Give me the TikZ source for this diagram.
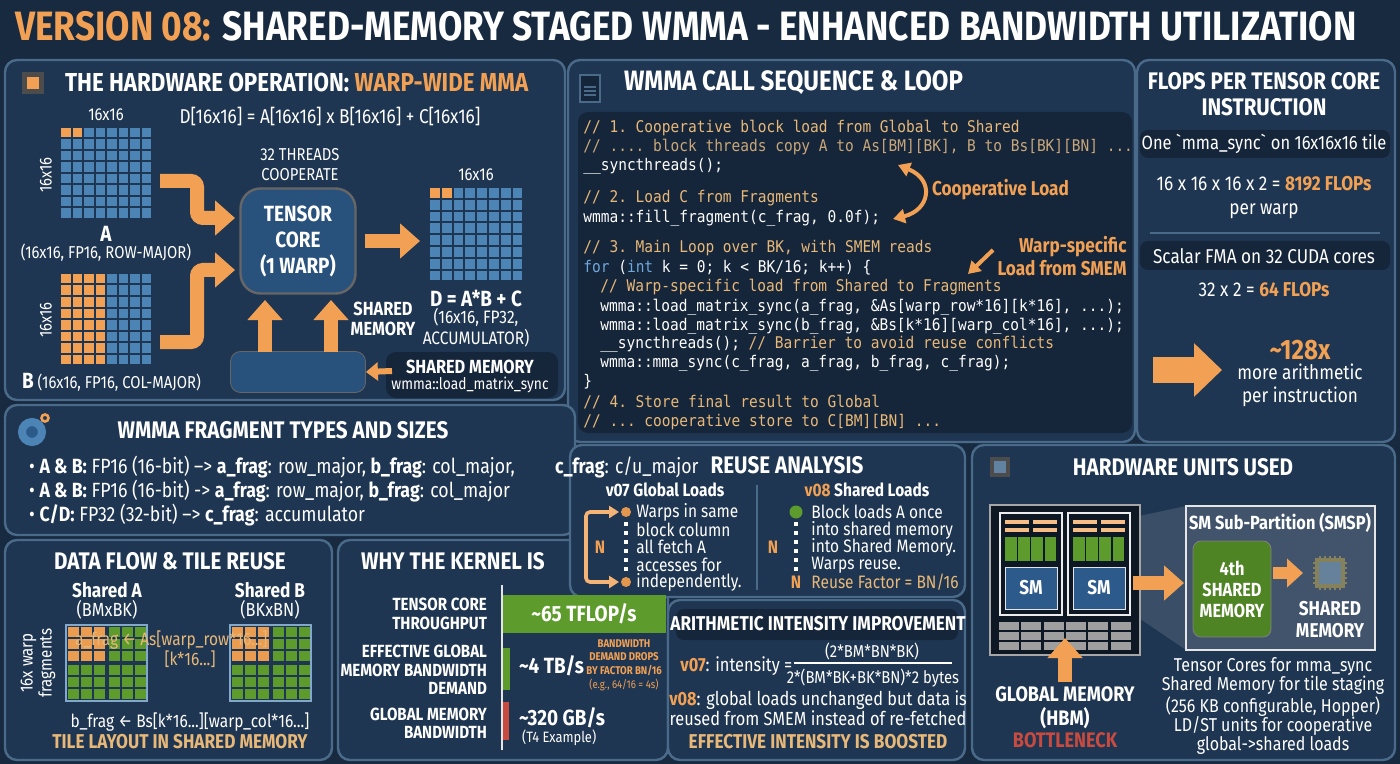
\documentclass[tikz,border=0pt]{standalone}
\usepackage{fontspec}
\setmainfont{Fira Sans}[FakeStretch=0.86]
\setmonofont{DejaVu Sans Mono}[FakeStretch=0.9]
\usetikzlibrary{arrows.meta,calc}
\definecolor{bg}{HTML}{182A40}
\definecolor{pan}{HTML}{1F3652}
\definecolor{pbd}{HTML}{4A6A8A}
\definecolor{dark}{HTML}{15253A}
\definecolor{org}{HTML}{F2A154}
\definecolor{tan}{HTML}{E8B878}
\definecolor{cb}{HTML}{4D84B6}
\definecolor{gr}{HTML}{5D9B2C}
\definecolor{rd}{HTML}{C94A3F}
\definecolor{kw}{HTML}{6FA8DC}
\definecolor{smb}{HTML}{2C5A8A}
\tikzset{
 panel/.style={draw=pbd,fill=pan,line width=1.2,rounded corners=6},
 ttl/.style={text=white,font=\bfseries\fontsize{14}{14}\selectfont},
 txt/.style={text=white,font=\fontsize{8.6}{10}\selectfont,align=center},
 btxt/.style={text=white,font=\bfseries\fontsize{9}{10}\selectfont,align=center},
 code/.style={anchor=base west,text=white,font=\ttfamily\fontsize{8.05}{9}\selectfont,inner sep=0},
 bigarr/.style={org,line width=7,-{Triangle[length=10,width=17]}},
 smarr/.style={org,line width=3,-{Triangle[length=6,width=9]}},
 rtxt/.style={text=white,anchor=west,font=\fontsize{9}{9}\selectfont,inner sep=0.5},
}
\newcommand{\cm}[1]{\textcolor{tan}{#1}}
\begin{document}
\begin{tikzpicture}[x=0.5pt,y=-0.5pt]
\fill[bg] (0,0) rectangle (1400,764);
\useasboundingbox (0,0) rectangle (1400,764);
% title
\node[anchor=west,font=\bfseries\fontsize{20.5}{20}\selectfont,text=white] (title) at (8,26)
 {\textcolor{org}{VERSION 08:} SHARED-MEMORY STAGED WMMA - ENHANCED BANDWIDTH UTILIZATION};
% panels
\draw[panel] (5,60) rectangle (565,400);
\draw[panel] (568,60) rectangle (1135,442);
\draw[panel] (1137,60) rectangle (1395,442);
\draw[panel] (5,405) rectangle (575,535);
\draw[panel] (5,540) rectangle (332,760);
\draw[panel] (338,540) rectangle (668,760);
\draw[panel] (570,445) rectangle (965,597);
\draw[panel] (668,600) rectangle (965,760);
\draw[panel] (972,445) rectangle (1395,760);

%%% Panel 1
\fill[gray!60!black] (22,72) rectangle (44,94); \fill[org] (27,77) rectangle (39,89);
\node[ttl,anchor=west,font=\bfseries\fontsize{13}{13}\selectfont] (t1) at (58,82) {THE HARDWARE OPERATION: \textcolor{org}{WARP-WIDE MMA}};
\node[txt,font=\fontsize{10}{10}\selectfont] (eq) at (330,117) {D[16x16] = A[16x16] x B[16x16] + C[16x16]};
\foreach \i in {0,...,7}\foreach \j in {0,...,7}{
 \fill[cb] ({61+\i*11.5},{128+\j*11.5}) rectangle ++(9.5,9.5);
 \fill[cb] ({61+\i*11.5},{274+\j*11.5}) rectangle ++(9.5,9.5);
 \fill[cb] ({430+\i*11.8},{188+\j*11.8}) rectangle ++(9.8,9.8);}
\foreach \i in {0,1}{\fill[org] ({61+\i*11.5},128) rectangle ++(9.5,9.5);
 \fill[org] ({430+\i*11.8},188) rectangle ++(9.8,9.8);}
\foreach \i in {0,...,3}\foreach \j in {0,...,7}{\fill[org] ({61+\i*11.5},{274+\j*11.5}) rectangle ++(9.5,9.5);}
\node[txt] (a16) at (106,115) {16x16};
\node[txt,rotate=90] (a16v) at (46,175) {16x16};
\node[txt,rotate=90] (b16v) at (46,320) {16x16};
\node[txt] (d16) at (476,175) {16x16};
\node[btxt,font=\bfseries\fontsize{11}{11}\selectfont,inner sep=1] (Alab) at (106,234) {A};
\node[txt,inner sep=1] (Adesc) at (106,253) {(16x16, FP16, ROW-MAJOR)};
\node[txt,anchor=west] (Bdesc) at (15,382) {\textbf{\fontsize{11}{11}\selectfont B} (16x16, FP16, COL-MAJOR)};
\node[txt,align=center] (thr) at (300,165) {32 THREADS\\COOPERATE};
\node[draw=black!60,fill=smb!90!black,rounded corners=10,line width=1.2,minimum width=115*0.5pt,minimum height=105*0.5pt,
 text=white,font=\bfseries\fontsize{11}{13}\selectfont,align=center] (tc) at (298,241) {TENSOR\\CORE\\(1 WARP)};
\draw[bigarr,rounded corners=3] (160,181) -- (197,181) -- (197,218) -- (235,218);
\draw[bigarr,rounded corners=3] (160,342) -- (197,342) -- (197,270) -- (235,270);
\draw[bigarr] (tc.east)++(8,0) -- (420,241);
\node[btxt,font=\bfseries\fontsize{11}{11}\selectfont,inner sep=1] (Dlab) at (476,299) {D = A*B + C};
\node[txt,font=\fontsize{9}{10.5}\selectfont,inner sep=1] (Ddesc) at (476,328) {(16x16, FP32,\\ACCUMULATOR)};
\node[btxt,font=\bfseries\fontsize{9.5}{10}\selectfont] (shl) at (383,319) {SHARED\\MEMORY};
\node[draw=black!60,fill=smb!90!black,rounded corners=5,minimum width=135*0.5pt,minimum height=41*0.5pt] (smbox) at (298,372) {};
\coordinate (u1) at (265,352); \coordinate (u2) at (331,352);
\draw[bigarr] (u1) -- (265,300);
\draw[bigarr] (u2) -- (331,300);
\fill[dark,rounded corners=5] (386,352) rectangle (558,398);
\node[btxt,font=\bfseries\fontsize{9.5}{10}\selectfont] (sml) at (470,367) {SHARED MEMORY};
\node[txt,font=\fontsize{8}{9}\selectfont] (sml2) at (470,385) {wmma::load\_matrix\_sync};
\draw[smarr] (392,371) -- (smbox.east);

%%% Panel 2 code
\draw[pbd,fill=dark,line width=0.8] (580,75) rectangle (600,102);
\foreach \k in {0,1,2}{\draw[pbd,line width=0.8] (584,{87+\k*4}) -- (596,{87+\k*4});}
\node[ttl,anchor=west] (t2) at (617,83) {WMMA CALL SEQUENCE \& LOOP};
\fill[dark,rounded corners=5] (578,112) rectangle (1132,433);
\node[code] (c1) at (583,133) {\cm{// 1. Cooperative block load from Global to Shared}};
\node[code] (c2) at (583,152) {\textcolor{tan!70!gray}{// .... block threads copy A to As[BM][BK], B to Bs[BK][BN] ...}};
\node[code] (c3) at (583,171) {\_\_syncthreads();};
\node[code] (c4) at (583,203) {\cm{// 2. Load C from Fragments}};
\node[code] (c5) at (583,223) {wmma::fill\_fragment(c\_frag, 0.0f);};
\node[code] (c6) at (583,253) {\cm{// 3. Main Loop over BK, with SMEM reads}};
\node[code] (c7) at (583,272) {\textcolor{kw}{for} (\textcolor{kw}{int} k = 0; k < BK/16; k++) \{};
\node[code] (c8) at (600,292) {\cm{// Warp-specific load from Shared to Fragments}};
\node[code] (c9) at (600,311) {wmma::load\_matrix\_sync(a\_frag, \&As[warp\_row*16][k*16], ...);};
\node[code] (c10) at (600,330) {wmma::load\_matrix\_sync(b\_frag, \&Bs[k*16][warp\_col*16], ...);};
\node[code] (c11) at (600,348) {\_\_syncthreads(); \cm{// Barrier to avoid reuse conflicts}};
\node[code] (c12) at (600,367) {wmma::mma\_sync(c\_frag, a\_frag, b\_frag, c\_frag);};
\node[code] (c13) at (583,386) {\}};
\node[code] (c14) at (583,407) {\cm{// 4. Store final result to Global}};
\node[code] (c15) at (583,426) {\cm{// ... cooperative store to C[BM][BN] ...}};
\node[text=org,font=\bfseries\fontsize{10}{10}\selectfont,anchor=west] (coop) at (925,190) {Cooperative Load};
\draw[org,line width=2,{Triangle[length=6,width=7]}-{Triangle[length=6,width=7]}] (898,165) .. controls (935,180) and (930,210) .. (893,219);
\node[text=org,font=\bfseries\fontsize{10}{11.5}\selectfont,align=right] (wsl) at (1062,256) {Warp-specific\\Load from SMEM};
\draw[org,line width=2,-{Triangle[length=6,width=7]}] (993,250) -- (968,274);

%%% Panel 3 flops
\node[ttl,align=center,font=\bfseries\fontsize{12}{13}\selectfont] (t3) at (1264,94) {FLOPS PER TENSOR CORE\\INSTRUCTION};
\fill[dark,rounded corners=4] (1140,130) rectangle (1390,158);
\node[txt,font=\fontsize{9.6}{10}\selectfont] (f1) at (1264,144) {One \textasciigrave mma\_sync\textasciigrave\ on 16x16x16 tile};
\node[txt,font=\fontsize{10}{12}\selectfont] (f2) at (1264,198) {16 x 16 x 16 x 2 = \textbf{\textcolor{org}{8192 FLOPs}}\\per warp};
\draw[pbd,line width=1] (1150,233) -- (1380,233);
\fill[dark,rounded corners=4] (1140,241) rectangle (1390,270);
\node[txt,font=\fontsize{10}{10}\selectfont] (f3) at (1264,256) {Scalar FMA on 32 CUDA cores};
\node[txt,font=\fontsize{10}{10}\selectfont] (f4) at (1264,290) {32 x 2 = \textbf{\textcolor{org}{64 FLOPs}}};
\coordinate (fa) at (1153,370);
\draw[org,line width=13,-{Triangle[length=14,width=26]}] (fa) -- (1222,370);
\node[text=org,font=\bfseries\fontsize{14}{14}\selectfont] (f5) at (1300,350) {\textasciitilde128x};
\node[txt,font=\fontsize{10}{11.5}\selectfont] (f6) at (1300,385) {more arithmetic\\per instruction};

%%% Panel 4 fragments
\draw[cb,line width=4,fill=smb] (32,432) circle (10); \draw[org,line width=1.3] (45,418) circle (3.5);
\node[ttl,font=\bfseries\fontsize{12}{12}\selectfont] (t4) at (283,430) {WMMA FRAGMENT TYPES AND SIZES};
\node[txt,anchor=west,font=\fontsize{10.3}{10}\selectfont] (b1) at (22,467) {\textbullet\ \textbf{A \& B:} FP16 (16-bit) –> \textbf{a\_frag}: row\_major, \textbf{b\_frag}: col\_major,};
\node[txt,anchor=west,font=\fontsize{10.3}{10}\selectfont] (b2) at (22,491) {\textbullet\ \textbf{A \& B:} FP16 (16-bit) -> \textbf{a\_frag}: row\_major, \textbf{b\_frag}: col\_major};
\node[txt,anchor=west,font=\fontsize{10.3}{10}\selectfont] (b3) at (22,515) {\textbullet\ \textbf{C/D:} FP32 (32-bit) –> \textbf{c\_frag}: accumulator};
\node[txt,anchor=west,font=\fontsize{10.3}{10}\selectfont] (b4) at (548,467) {\textbf{c\_frag}: c/u\_major};

%%% Reuse analysis
\node[ttl,font=\bfseries\fontsize{12}{12}\selectfont] (t5) at (787,465) {REUSE ANALYSIS};
\node[btxt] (v07h) at (665,490) {v07 Global Loads};
\node[btxt] (v08h) at (867,490) {\textcolor{org}{v08} Shared Loads};
\draw[pbd,line width=1] (757,485) -- (757,590);
\foreach \y/\t in {512/Warps in same,530/block column,547/all fetch A,565/accesses for,582/independently.}
 \node[rtxt] at (635,\y) {\t};
\foreach \y/\t in {512/Block loads A once,530/into shared memory,547/into Shared Memory.,565/Warps reuse.}
 \node[rtxt] at (810,\y) {\t};
\node[rtxt,text=tan] (rf) at (810,582) {Reuse Factor = BN/16};
\fill[org!70!brown] (626,512) circle (5); \fill[org!70!brown] (626,582) circle (5);
\draw[org!80!white,line width=1.8,{Triangle[length=5,width=6]}-{Triangle[length=5,width=6]},rounded corners=2] (619,512) -- (586,512) -- (586,582) -- (619,582);
\node[text=org,font=\bfseries\fontsize{9}{9}\selectfont] (n1) at (600,547) {N};
\draw[white,line width=1.6,dash pattern=on 2 off 2.5] (626,522) -- (626,572);
\fill[gr] (796,512) circle (6.5);
\draw[white,line width=1.6,dash pattern=on 2 off 2.5] (796,522) -- (796,572);
\node[text=org,font=\bfseries\fontsize{9}{9}\selectfont] (n2) at (773,547) {N};
\node[text=org,font=\bfseries\fontsize{9}{9}\selectfont] (n3) at (796,582) {N};

%%% Arithmetic intensity
\fill[dark,rounded corners=4] (676,609) rectangle (958,640);
\node[ttl,font=\bfseries\fontsize{10}{10}\selectfont] (t6) at (818,624) {ARITHMETIC INTENSITY IMPROVEMENT};
\node[txt,anchor=west,font=\fontsize{9.5}{10}\selectfont,inner sep=0] (v07i) at (680,666) {\textbf{\textcolor{org}{v07}}: intensity =};
\node[txt,font=\fontsize{8.6}{10}\selectfont] (num) at (872,651) {(2*BM*BN*BK)};
\draw[white,line width=1] (794,663) -- (952,663);
\node[txt,font=\fontsize{8.6}{10}\selectfont] (den) at (873,678) {2*(BM*BK+BK*BN)*2 bytes};
\node[txt,font=\fontsize{9.5}{10.2}\selectfont] (v08i) at (818,708) {\textbf{\textcolor{org}{v08}}: global loads unchanged but data is\\reused from SMEM instead of re-fetched};
\node[text=tan,font=\bfseries\fontsize{10}{10}\selectfont] (eib) at (818,742) {EFFECTIVE INTENSITY IS BOOSTED};

%%% Why the kernel
\node[ttl,font=\bfseries\fontsize{12}{12}\selectfont] (t7) at (453,561) {WHY THE KERNEL IS};
\node[btxt,align=right,anchor=east,font=\bfseries\fontsize{8.8}{9.2}\selectfont] (l1) at (494,614) {TENSOR CORE\\THROUGHPUT};
\node[btxt,align=right,anchor=east,font=\bfseries\fontsize{8.8}{9.2}\selectfont] (l2) at (494,670) {EFFECTIVE GLOBAL\\MEMORY BANDWIDTH\\DEMAND};
\node[btxt,align=right,anchor=east,font=\bfseries\fontsize{8.8}{9.2}\selectfont] (l3) at (494,723) {GLOBAL MEMORY\\BANDWIDTH};
\draw[white!80!gray,line width=1.2] (502,585) -- (502,750);
\fill[gr] (503,595) rectangle (666,633);
\node[btxt,font=\bfseries\fontsize{11}{11}\selectfont] (bar1) at (584,614) {\textasciitilde65 TFLOP/s};
\fill[gr] (503,648) rectangle (510,690);
\node[btxt,anchor=west,font=\bfseries\fontsize{11}{11}\selectfont] (bar2) at (512,666) {\textasciitilde4 TB/s};
\fill[rd] (503,702) rectangle (509,740);
\node[btxt,anchor=west,font=\bfseries\fontsize{11}{11}\selectfont] (bar3) at (512,718) {\textasciitilde320 GB/s};
\node[txt,anchor=west,font=\fontsize{7.5}{8}\selectfont] (t4e) at (515,738) {(T4 Example)};
\node[text=org,font=\bfseries\fontsize{5.6}{6.8}\selectfont,align=center] (bdd) at (624,665) {BANDWIDTH\\DEMAND DROPS\\BY FACTOR BN/16\\{\mdseries (e.g., 64/16 = 4s)}};

%%% Data flow
\node[ttl,font=\bfseries\fontsize{12}{12}\selectfont] (t8) at (170,561) {DATA FLOW \& TILE REUSE};
\node[btxt,font=\bfseries\fontsize{10}{10}\selectfont] (sa) at (107,590) {Shared A};
\node[txt,font=\fontsize{9.5}{10}\selectfont] (sa2) at (107,610) {(BMxBK)};
\node[btxt,font=\bfseries\fontsize{10}{10}\selectfont] (sb) at (270,590) {Shared B};
\node[txt,font=\fontsize{9.5}{10}\selectfont] (sb2) at (270,610) {(BKxBN)};
\foreach \ox in {66,230}{
 \draw[cb!70!white,line width=1] (\ox,625) rectangle ++(81,76);
 \foreach \i in {0,...,5}\foreach \j in {0,...,5}{
  \pgfmathsetmacro\xx{\ox+2+\i*13+(\i>2)*1.5}\pgfmathsetmacro\yy{627+\j*12+(\j>2)*1.5}
  \fill[gr] (\xx,\yy) rectangle ++(11,10);}
 \foreach \i in {0,...,2}\foreach \j in {0,...,2}{
  \pgfmathsetmacro\xx{\ox+2+\i*13}\pgfmathsetmacro\yy{627+\j*12}
  \fill[org!85!brown] (\xx,\yy) rectangle ++(11,10);}}
\node[txt,rotate=90,font=\fontsize{8.8}{9.5}\selectfont] (wf) at (38,663) {16x warp\\fragments};
\node[text=tan,font=\fontsize{9}{9}\selectfont,anchor=west] (af) at (68,640) {a\_frag ← As[warp\_row*16...]};
\node[text=tan,font=\fontsize{9}{9}\selectfont] (af2) at (190,659) {[k*16...]};
\node[txt,font=\fontsize{9}{9}\selectfont] (bf) at (190,722) {b\_frag ← Bs[k*16...][warp\_col*16...]};
\node[text=tan,font=\bfseries\fontsize{10}{10}\selectfont] (tl) at (180,742) {TILE LAYOUT IN SHARED MEMORY};

%%% Hardware units
\fill[gray!60!black] (990,457) rectangle (1010,477); \fill[cb!60!gray] (994,461) rectangle (1006,473);
\node[ttl,font=\bfseries\fontsize{12}{12}\selectfont] (t9) at (1183,467) {HARDWARE UNITS USED};
\fill[white,opacity=0.12] (1130,518) -- (1186,506) -- (1186,650) -- (1130,612) -- cycle;
\draw[gray!70,fill=black!55!pan,line width=1.2] (990,505) rectangle (1140,655);
\foreach \sx in {1000,1068}{
 \draw[white!85!gray,line width=1.2] (\sx,513) rectangle ++(62,102);
 \fill[org!70!white] (\sx+5,520) rectangle ++(24,4); \fill[org!70!white] (\sx+33,520) rectangle ++(24,4);
 \fill[org!70!white] (\sx+5,528) rectangle ++(24,4); \fill[org!70!white] (\sx+33,528) rectangle ++(24,4);
 \foreach \k in {0,...,3} \fill[gr] ({\sx+5+\k*13.2},537) rectangle ++(11.5,24);}
\node[draw=white!80!gray,fill=smb,minimum width=52*0.5pt,minimum height=42*0.5pt,text=white,font=\bfseries\fontsize{10}{10}\selectfont] (sm1) at (1031,588) {SM};
\node[draw=white!80!gray,fill=smb,minimum width=52*0.5pt,minimum height=42*0.5pt,text=white,font=\bfseries\fontsize{10}{10}\selectfont] (sm2) at (1099,588) {SM};
\foreach \r in {0,1,2}\foreach \c in {0,...,5}{\fill[gray!75] ({999+\c*22.3},{622+\r*10}) rectangle ++(20,8);}
\draw[bigarr] (1065,682) -- (1065,638);
\node[btxt,font=\bfseries\fontsize{10.5}{12}\selectfont] (gm) at (1065,708) {GLOBAL MEMORY\\(HBM)};
\node[text=rd,font=\bfseries\fontsize{10.5}{10}\selectfont] (bn) at (1065,740) {BOTTLENECK};
\draw[white!80!gray,fill=pan!85!white,line width=1.2] (1186,506) rectangle (1375,650);
\node[btxt,font=\bfseries\fontsize{9.5}{10}\selectfont] (smsp) at (1280,523) {SM Sub-Partition (SMSP)};
\node[draw=black!50,fill=gr!85!black,rounded corners=4,minimum width=73*0.5pt,minimum height=96*0.5pt,text=white,font=\bfseries\fontsize{9.5}{10.5}\selectfont,align=center] (g4) at (1232,589) {4th\\SHARED\\MEMORY};
\draw[bigarr] (sm2.east)++(8,-5) -- (1184,583);
\draw[org,line width=6,-{Triangle[length=8,width=14]}] (g4.east)++(2,-16) -- (1303,573);
\draw[gray!50!yellow!60!black,line width=2,fill=cb!50!gray] (1317,560) rectangle (1343,586);
\foreach \k in {0,...,4}{\draw[gray!50!yellow!60!black,line width=1] ({1320+\k*5},556) -- ++(0,4) ({1320+\k*5},586) -- ++(0,4) (1313,{563+\k*5}) -- ++(4,0) (1343,{563+\k*5}) -- ++(4,0);}
\node[btxt,font=\bfseries\fontsize{10}{11}\selectfont] (shm) at (1330,620) {SHARED\\MEMORY};
\node[txt,font=\fontsize{9.3}{9.7}\selectfont] (hwt) at (1273,706) {Tensor Cores for mma\_sync\\Shared Memory for tile staging\\(256 KB configurable, Hopper)\\LD/ST units for cooperative\\global->shared loads};
\end{tikzpicture}
\end{document}
